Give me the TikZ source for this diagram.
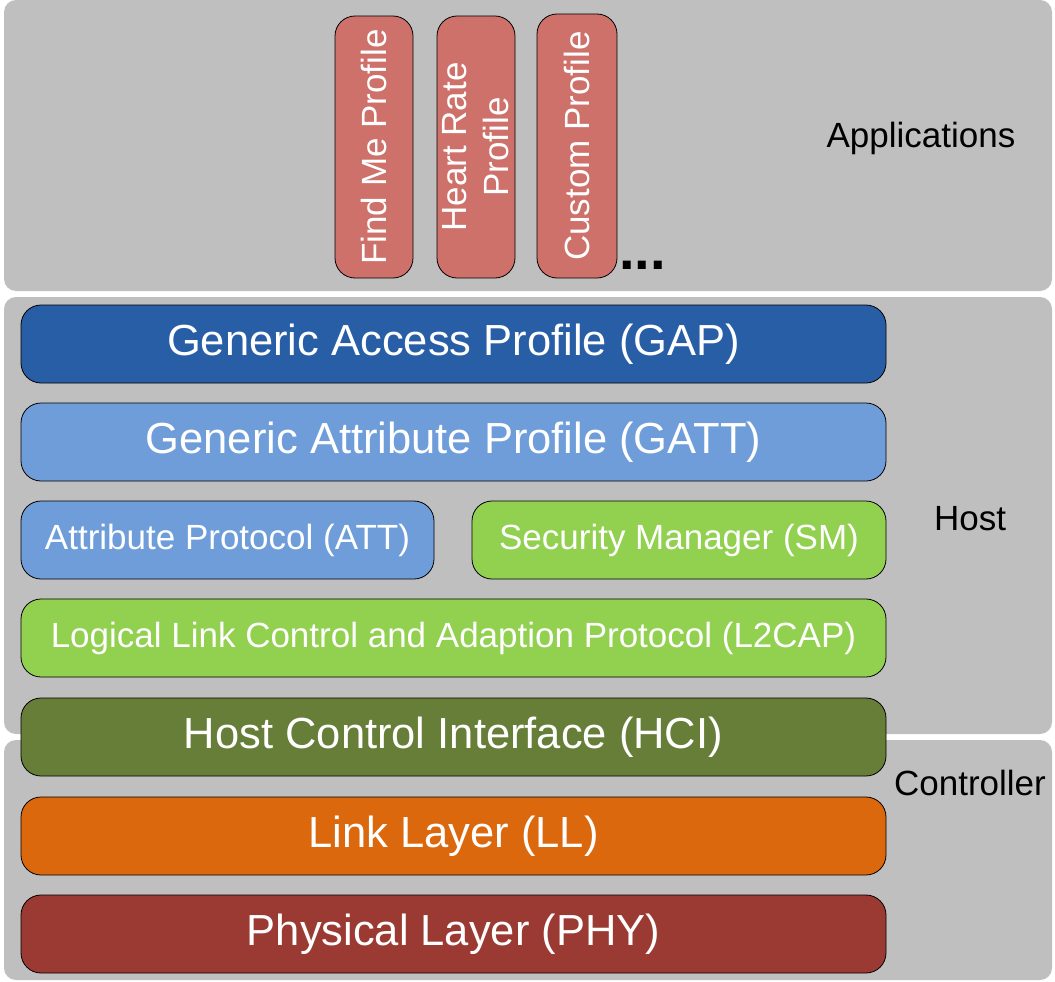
\documentclass[tikz,border=0pt]{standalone}
\usepackage{fontspec}
\setmainfont{Liberation Sans}
\definecolor{panelgray}{RGB}{191,191,191}
\definecolor{gapblue}{RGB}{40,94,166}
\definecolor{gattblue}{RGB}{111,157,218}
\definecolor{lgreen}{RGB}{146,208,80}
\definecolor{hciolive}{RGB}{103,126,56}
\definecolor{llorange}{RGB}{219,104,13}
\definecolor{phyred}{RGB}{155,58,51}
\definecolor{profred}{RGB}{205,113,106}
\tikzset{
  panel/.style={fill=panelgray, draw=none, rounded corners=12pt},
  layerbox/.style={draw=black, line width=0.8pt, rounded corners=20pt, inner sep=0pt, outer sep=0pt, text=white, align=center},
  bigtxt/.style={font=\fontsize{43.5}{50}\selectfont},
  smalltxt/.style={font=\fontsize{35}{42}\selectfont},
  proftxt/.style={layerbox, rotate=90, font=\fontsize{35}{42}\selectfont, minimum width=262pt, minimum height=78pt},
  sidelabel/.style={font=\fontsize{35}{42}\selectfont, text=black, inner sep=0pt}
}
\begin{document}
\begin{tikzpicture}[x=1pt,y=-1pt]
\useasboundingbox (0,0) rectangle (1055,982);
% panels
\path[panel] (4,0) rectangle (1052,291);
\path[panel] (4,297) rectangle (1052,734);
\path[panel] (4,740) rectangle (1052,980);
% profiles
\node[proftxt, fill=profred] (findme) at (374,147) {Find Me Profile};
\node[proftxt, fill=profred] (heart) at (476,147) {Heart Rate\\Profile};
\node[proftxt, fill=profred, minimum height=80pt, minimum width=264pt] (custom) at (577,146) {Custom Profile};
\node[font=\fontsize{56}{60}\selectfont\bfseries, inner sep=0pt, anchor=base west] (dots) at (619,269) {...};
% layers
\node[layerbox, bigtxt, fill=gapblue, minimum width=865pt, minimum height=78pt] (gap) at (453.5,344) {Generic Access Profile (GAP)};
\node[layerbox, bigtxt, fill=gattblue, minimum width=865pt, minimum height=78pt] (gatt) at (453.5,442) {Generic Attribute Profile (GATT)};
\node[layerbox, smalltxt, fill=gattblue, minimum width=413pt, minimum height=78pt] (att) at (227.5,540) {Attribute Protocol (ATT)};
\node[layerbox, smalltxt, fill=lgreen, minimum width=414pt, minimum height=78pt] (sm) at (679,540) {Security Manager (SM)};
\node[layerbox, smalltxt, fill=lgreen, minimum width=865pt, minimum height=78pt] (l2cap) at (453.5,638) {Logical Link Control and Adaption Protocol (L2CAP)};
\node[layerbox, bigtxt, fill=hciolive, minimum width=865pt, minimum height=78pt] (hci) at (453.5,737) {Host Control Interface (HCI)};
\node[layerbox, bigtxt, fill=llorange, minimum width=865pt, minimum height=78pt] (ll) at (453.5,836) {Link Layer (LL)};
\node[layerbox, bigtxt, fill=phyred, minimum width=865pt, minimum height=78pt] (phy) at (453.5,934) {Physical Layer (PHY)};
% side labels
\node[sidelabel] (apps) at (921,138) {Applications};
\node[sidelabel] (host) at (970,519) {Host};
\node[sidelabel] (ctrl) at (970,783) {Controller};
\end{tikzpicture}
\end{document}
